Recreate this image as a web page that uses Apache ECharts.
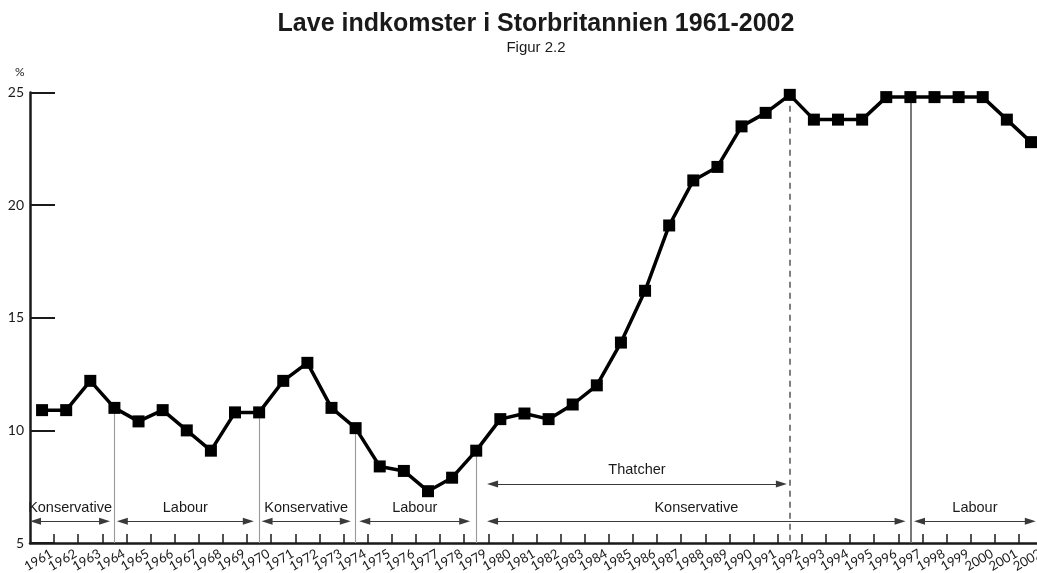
<!DOCTYPE html>
<html>
<head>
<meta charset="utf-8">
<title>Lave indkomster i Storbritannien 1961-2002</title>
<script src="https://cdn.jsdelivr.net/npm/echarts@6/dist/echarts.min.js"></script>
<style>
  html, body { margin: 0; padding: 0; background: #fff; }
  #chart { width: 1037px; height: 573px; }
</style>
</head>
<body>
<div id="chart"></div>
<script>
(function () {
  // years on the x axis (also used as tick labels)
  const years = ['1961', '1962', '1963', '1964', '1965', '1966', '1967', '1968', '1969', '1970',
    '1971', '1972', '1973', '1974', '1975', '1976', '1977', '1978', '1979', '1980',
    '1981', '1982', '1983', '1984', '1985', '1986', '1987', '1988', '1989', '1990',
    '1991', '1992', '1993', '1994', '1995', '1996', '1997', '1998', '1999', '2000',
    '2001', '2002'];

  // share of people with low income, %
  const lowIncomePct = [10.9, 10.9, 12.2, 11.0, 10.4, 10.9, 10.0, 9.1, 10.8, 10.8,
    12.2, 13.0, 11.0, 10.1, 8.4, 8.2, 7.3, 7.9, 9.1, 10.5,
    10.75, 10.5, 11.15, 12.0, 13.9, 16.2, 19.1, 21.1, 21.7, 23.5,
    24.1, 24.9, 23.8, 23.8, 23.8, 24.8, 24.8, 24.8, 24.8, 24.8,
    23.8, 22.8];

  // governments (arrow spans in years)
  const govParty = ['Konservative', 'Labour', 'Konservative', 'Labour', 'Konservative', 'Labour'];
  const govFrom = [1960.5, 1964.1, 1970.1, 1974.15, 1979.45, 1997.15];
  const govTo = [1963.82, 1969.78, 1973.8, 1978.75, 1996.8, 2002.2];
  const govChangeYears = [1964, 1970, 1974, 1979, 1997];

  const thatcherLabel = 'Thatcher';
  const thatcherFrom = 1979.45;
  const thatcherTo = 1991.88;
  const thatcherEndYear = 1992;

  const ink = '#1a1a1a';
  const axisFont = 'Lato, "DejaVu Sans", sans-serif';
  const labelFont = '"Liberation Sans", Arial, sans-serif';

  const pctOf = (year) => lowIncomePct[years.indexOf(String(year))];

  const xMin = 1960.5;
  const xMax = 2002.6;
  const pxPerYear = 24.12;
  const arrowSize = [7, 11];
  const inset = arrowSize[1] / 2 / pxPerYear; // arrow tips stick out half a symbol

  const arrowLine = (from, to, y, text) => [
    {
      coord: [from + inset, y],
      symbol: 'triangle',
      symbolSize: arrowSize,
      lineStyle: { color: '#3a3a3a', width: 1.2, type: 'solid' },
      label: {
        show: true,
        position: 'middle',
        distance: 6,
        formatter: text,
        color: ink,
        fontSize: 14.5,
        fontFamily: labelFont
      }
    },
    { coord: [to - inset, y], symbol: 'triangle', symbolSize: arrowSize }
  ];

  const marks = govChangeYears.map((y) => [
    {
      coord: [y, pctOf(y)],
      lineStyle: { color: y === 1997 ? '#6a6a6a' : '#999', width: y === 1997 ? 1.8 : 1.1, type: 'solid' }
    },
    { coord: [y, 5] }
  ]);
  marks.push([
    {
      coord: [thatcherEndYear, pctOf(thatcherEndYear)],
      lineStyle: { color: '#555', width: 1.5, type: [6, 5] }
    },
    { coord: [thatcherEndYear, 5] }
  ]);
  govParty.forEach((p, i) => marks.push(arrowLine(govFrom[i], govTo[i], 5.97, p)));
  marks.push(arrowLine(thatcherFrom, thatcherTo, 7.62, thatcherLabel));

  // ticks sit between years; each label names the year left of its tick
  const yearLabel = (v) => {
    const y = String(Math.round(v - 0.5));
    return years.indexOf(y) >= 0 ? y : '';
  };

  const chart = echarts.init(document.getElementById('chart'));

  chart.setOption({
    animation: false,
    backgroundColor: '#fff',
    title: [
      {
        text: 'Lave indkomster i Storbritannien 1961-2002',
        subtext: 'Figur 2.2',
        left: 531,
        top: 7,
        textAlign: 'center',
        itemGap: 3,
        textStyle: { fontSize: 25, fontWeight: 'bold', color: ink, fontFamily: '"Liberation Sans", sans-serif' },
        subtextStyle: { fontSize: 15, color: ink, fontFamily: '"Liberation Sans", sans-serif' }
      },
      {
        text: '%',
        left: 10,
        top: 61,
        textStyle: { fontSize: 12, fontWeight: 'normal', color: ink, fontFamily: axisFont }
      }
    ],
    grid: {
      left: 30,
      top: 92.6,
      width: (xMax - xMin) * pxPerYear,
      bottom: 30,
      containLabel: false,
      outerBoundsMode: 'none'
    },
    xAxis: {
      type: 'value',
      min: xMin,
      max: xMax,
      interval: 1,
      axisLine: { show: true, lineStyle: { color: ink, width: 2.5 } },
      axisTick: { show: true, inside: true, length: 9, lineStyle: { color: ink, width: 1.5 } },
      axisLabel: {
        rotate: 30,
        margin: 8,
        padding: [0, 3, 0, 0],
        showMinLabel: false,
        showMaxLabel: false,
        hideOverlap: false,
        formatter: yearLabel,
        color: ink,
        fontSize: 13,
        fontFamily: axisFont
      },
      splitLine: { show: false }
    },
    yAxis: {
      type: 'value',
      min: 5,
      max: 25,
      interval: 5,
      axisLine: { show: true, lineStyle: { color: ink, width: 2.5 } },
      axisTick: { show: true, inside: true, length: 25, lineStyle: { color: ink, width: 2 } },
      axisLabel: { margin: 6, color: ink, fontSize: 14, fontFamily: axisFont },
      splitLine: { show: false }
    },
    series: [
      {
        name: 'Lave indkomster',
        type: 'line',
        data: years.map((y, i) => [Number(y), lowIncomePct[i]]),
        symbol: 'rect',
        symbolSize: 12,
        showAllSymbol: true,
        itemStyle: { color: '#000' },
        lineStyle: { color: '#000', width: 3.5 },
        z: 5,
        markLine: {
          silent: true,
          symbol: ['none', 'none'],
          label: { show: false },
          data: marks
        }
      }
    ]
  });

  window.addEventListener('resize', () => chart.resize());
})();
</script>
</body>
</html>
